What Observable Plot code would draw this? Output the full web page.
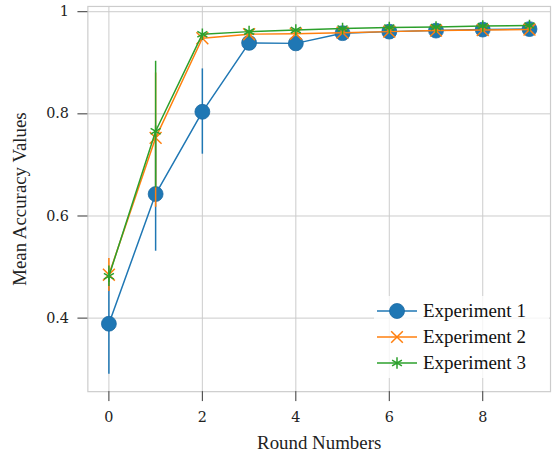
<!DOCTYPE html>
<html>
<head>
<meta charset="utf-8">
<script src="https://cdn.jsdelivr.net/npm/d3@7"></script>
<script src="https://cdn.jsdelivr.net/npm/@observablehq/plot@0.6"></script>
<style>
  html, body { margin: 0; padding: 0; background: #fff; overflow: hidden; }
  #wrap { position: relative; width: 552px; height: 456px; overflow: hidden; }
  #legend { position: absolute; left: 374px; top: 296px; width: 175px; height: 82px;
    background: rgba(255,255,255,0.8); font-family: "Liberation Serif", "Times New Roman", serif; font-size: 19px; color: #111; }
  .row { position: absolute; left: 0; height: 24px; display: flex; align-items: center; white-space: nowrap; }
  .row svg { display: block; }
  .row span { margin-left: 3px; }
</style>
</head>
<body>
<div id="wrap"><div id="chart"></div><div id="legend"></div></div>
<script>
const rounds = [0, 1, 2, 3, 4, 5, 6, 7, 8, 9];
const seriesNames = ["Experiment 1", "Experiment 2", "Experiment 3"];
const colors = ["#1f77b4", "#ff7f0e", "#2ca02c"];
const symbols = ["circle", "times", "asterisk"];

const exp1Mean = [0.389, 0.643, 0.804, 0.939, 0.938, 0.958, 0.961, 0.963, 0.965, 0.966];
const exp1Lo   = [0.290, 0.531, 0.721, 0.939, 0.938, 0.958, 0.961, 0.963, 0.965, 0.966];
const exp1Hi   = [0.490, 0.755, 0.888, 0.939, 0.938, 0.958, 0.961, 0.963, 0.965, 0.966];

const exp2Mean = [0.485, 0.753, 0.948, 0.956, 0.957, 0.959, 0.961, 0.963, 0.964, 0.965];
const exp2Lo   = [0.452, 0.617, 0.948, 0.956, 0.957, 0.959, 0.961, 0.963, 0.964, 0.965];
const exp2Hi   = [0.517, 0.880, 0.948, 0.956, 0.957, 0.959, 0.961, 0.963, 0.964, 0.965];

const exp3Mean = [0.482, 0.766, 0.956, 0.961, 0.964, 0.967, 0.969, 0.970, 0.972, 0.973];
const exp3Lo   = [0.462, 0.655, 0.956, 0.961, 0.964, 0.967, 0.969, 0.970, 0.972, 0.973];
const exp3Hi   = [0.502, 0.903, 0.956, 0.961, 0.964, 0.967, 0.969, 0.970, 0.972, 0.973];

const xTicks = [0, 2, 4, 6, 8];
const yTicks = [0.4, 0.6, 0.8, 1];

const means = [exp1Mean, exp2Mean, exp3Mean];
const los = [exp1Lo, exp2Lo, exp3Lo];
const his = [exp1Hi, exp2Hi, exp3Hi];

const tables = means.map((m, s) => rounds.map((r, i) => ({round: r, mean: m[i], lo: los[s][i], hi: his[s][i]})));

const marks = [
  Plot.gridX(xTicks, {stroke: "#cccccc", strokeOpacity: 1, strokeWidth: 1}),
  Plot.gridY(yTicks, {stroke: "#cccccc", strokeOpacity: 1, strokeWidth: 1}),
  Plot.frame({stroke: "#cccccc", strokeWidth: 1.2}),
  Plot.axisX({ticks: xTicks, tickSize: 10, tickPadding: 10, label: "Round Numbers", labelAnchor: "center", labelArrow: "none", labelOffset: 58, stroke: "#333"}),
  Plot.axisY({ticks: yTicks, tickSize: 10, tickPadding: 9, tickFormat: d => d === 1 ? "1" : d.toFixed(1), label: "Mean Accuracy Values", labelAnchor: "center", labelArrow: "none", labelOffset: 76, stroke: "#333"})
];
tables.forEach((t, s) => {
  marks.push(Plot.ruleX(t.filter(d => d.hi > d.lo), {x: "round", y1: "lo", y2: "hi", stroke: colors[s], strokeWidth: 1.5}));
  marks.push(Plot.line(t, {x: "round", y: "mean", stroke: colors[s], strokeWidth: 1.5}));
  if (s === 0) {
    marks.push(Plot.dot(t, {x: "round", y: "mean", r: 7.5, fill: colors[s], stroke: "#1a6aa3", strokeWidth: 0.8, symbol: "circle"}));
  } else {
    marks.push(Plot.dot(t, {x: "round", y: "mean", r: 5.5, stroke: colors[s], strokeWidth: 1.5, symbol: symbols[s]}));
  }
});

const chart = Plot.plot({
  width: 556,
  height: 456,
  marginLeft: 88,
  marginRight: 2,
  marginTop: 6,
  marginBottom: 62,
  style: {fontFamily: '"DejaVu Serif", serif', fontSize: "14.5px", color: "#222", background: "white"},
  x: {domain: [-0.45, 9.45]},
  y: {domain: [0.256, 1.0103]},
  marks
});
document.getElementById("chart").appendChild(chart);
chart.querySelectorAll('g[aria-label="x-axis label"], g[aria-label="y-axis label"]').forEach(g => {
  g.setAttribute("font-family", '"Liberation Serif", "Times New Roman", serif');
  g.setAttribute("font-size", "19px");
  g.querySelectorAll("text").forEach(t => {
    t.style.fontFamily = '"Liberation Serif", "Times New Roman", serif';
    t.style.fontSize = "19px";
  });
});

// legend
const legend = document.getElementById("legend");
seriesNames.forEach((name, s) => {
  const row = document.createElement("div");
  row.className = "row";
  row.style.top = (3 + s * 26) + "px";
  const sym = d3.symbol(s === 0 ? d3.symbolCircle : s === 1 ? d3.symbolTimes : d3.symbolAsterisk, s === 0 ? Math.PI * 7.5 * 7.5 : 90)();
  row.innerHTML = `<svg width="46" height="24"><line x1="3" x2="43" y1="12" y2="12" stroke="${colors[s]}" stroke-width="1.5"/>` +
    `<path transform="translate(23,12)" d="${sym}" ${s === 0 ? `fill="${colors[s]}" stroke="#1a6aa3" stroke-width="0.8"` : `fill="none" stroke="${colors[s]}" stroke-width="1.5"`}/></svg><span>${name}</span>`;
  legend.appendChild(row);
});
</script>
</body>
</html>
